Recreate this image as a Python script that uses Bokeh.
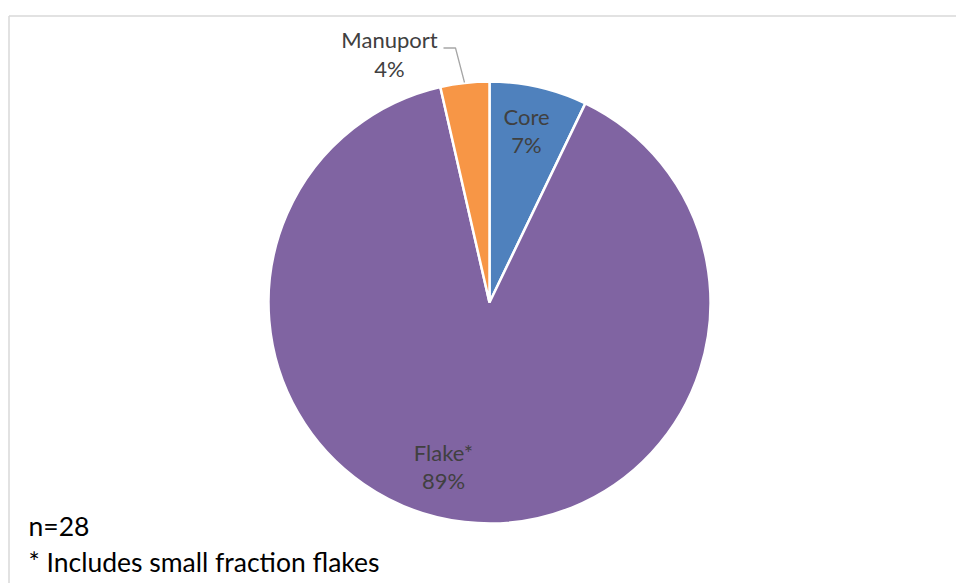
from bokeh.plotting import figure
from bokeh.models import Range1d, ColumnDataSource
from bokeh.core.properties import value
from bokeh.embed import file_html
from bokeh.resources import INLINE
import math

categories = ["Core", "Flake*", "Manuport"]
counts = [2, 25, 1]
colors = ["#4F81BD", "#8064A2", "#F79646"]
n_total = 28
footnote = "* Includes small fraction flakes"

W, H = 956, 583
p = figure(width=W, height=H, output_backend="svg", toolbar_location=None,
           x_range=Range1d(0, W), y_range=Range1d(0, H),
           min_border=0, min_border_left=0, min_border_right=0,
           min_border_top=0, min_border_bottom=0)
p.axis.visible = False
p.grid.visible = False
p.outline_line_color = None
p.background_fill_color = "white"
p.border_fill_color = "white"

def Y(page_y):
    return H - page_y

def X(page_x):
    return page_x

# chart border
p.segment(x0=[X(8.5), X(8.5)], y0=[Y(15.5), Y(15.5)], x1=[W, X(8.5)], y1=[Y(15.5), 0],
          line_color="#d9d9d9", line_width=1.5)

total = sum(counts)
starts, ends = [], []
a = math.pi / 2
for c in counts:
    starts.append(a)
    a -= 2 * math.pi * c / total
    ends.append(a)

src = ColumnDataSource(dict(start=starts, end=ends, color=colors))
cx, cy, r = X(489), Y(302), 221
p.wedge(x=cx, y=cy, radius=r, start_angle="start", end_angle="end",
        direction="clock", fill_color="color", line_color="white",
        line_width=2.5, source=src)

pct = [f"{round(100 * c / total)}%" for c in counts]

# data labels
lab_x = [X(526), X(443), X(389)]
lab_y1 = [Y(116), Y(452), Y(39)]
lab_y2 = [Y(144), Y(480), Y(68)]
font = value("Lato")
p.text(x=lab_x, y=lab_y1, text=categories, text_font=font, text_font_size="22px",
       text_color="#404040", text_align="center", text_baseline="alphabetic")
p.text(x=lab_x, y=lab_y2, text=pct, text_font=font, text_font_size="22px",
       text_color="#404040", text_align="center", text_baseline="alphabetic")

# leader line for Manuport
p.line(x=[X(443), X(455), X(464)], y=[Y(47.5), Y(47.5), Y(82)],
       line_color="#a6a6a6", line_width=1.3)

p.text(x=[X(28), X(28)], y=[Y(525), Y(561)],
       text=[f"n={n_total}", footnote], text_font=font, text_font_size="26.5px",
       text_color="black", text_align="left", text_baseline="alphabetic")

open("out.html", "w").write(file_html(p, INLINE))
